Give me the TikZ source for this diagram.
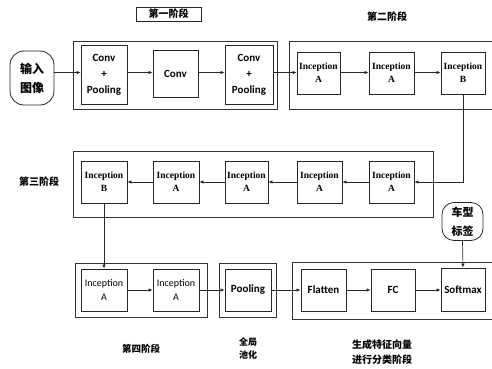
\documentclass[tikz,border=0pt]{standalone}
\usepackage{fontspec}
\setmainfont{Liberation Serif}
\newfontfamily\carl{Carlito}
\newfontfamily\cjk{Noto Sans CJK SC}
\usetikzlibrary{arrows.meta}
\tikzset{
  box/.style={draw=black!85, line width=0.8pt, inner sep=0pt, align=center},
  sansbox/.style={box, font=\carl\bfseries\fontsize{11}{16}\selectfont},
  incbox/.style={box, font=\bfseries\fontsize{9.5}{13}\selectfont, minimum width=45pt, minimum height=42pt},
  inc4box/.style={box, font=\carl\fontsize{10}{14}\selectfont, minimum width=46pt, minimum height=42pt},
  stadium/.style={box, rounded corners=14pt, font=\cjk\bfseries\fontsize{12}{19}\selectfont},
  stageline/.style={draw=black!80, line width=0.9pt},
  title/.style={inner sep=0pt, align=center, font=\cjk\bfseries\fontsize{10}{15}\selectfont},
  arr/.style={draw=black!85, line width=0.7pt, -{Latex[length=4pt,width=3.5pt]}}
}
\begin{document}
\begin{tikzpicture}[x=1pt,y=-1pt]
\useasboundingbox (0,0) rectangle (492,369);
% stage frames
\draw[stageline] (73,41) rectangle (277,109);
\draw[stageline] (495,41) -| (289,109) -- (495,109);
\draw[stageline] (73,151) rectangle (433,217);
\draw[stageline] (75,263) rectangle (207,317);
\draw[stageline] (219,263) rectangle (276,317);
\draw[stageline] (495,262) -| (292,319) -- (495,319);
% titles
\node[title, draw=black!85, line width=0.8pt, minimum width=65pt, minimum height=14pt] (t1) at (168.5,14) {第一阶段};
\node[title] (t2) at (387,17) {第二阶段};
\node[title] (t3) at (39,182) {第三阶段};
\node[title, font=\cjk\bfseries\fontsize{9.5}{15}\selectfont] (t4) at (141,349) {第四阶段};
\node[title, font=\cjk\bfseries\fontsize{9}{13}\selectfont] (t5) at (248,349) {全局\\池化};
\node[title] (t6) at (382,352) {生成特征向量\\进行分类阶段};
% stage 1
\node[stadium, minimum width=44pt, minimum height=54pt] (in) at (32,78) {输入\\图像};
\node[sansbox, minimum width=46pt, minimum height=59pt] (c1) at (104,74.5) {Conv\\+\\Pooling};
\node[sansbox, minimum width=45pt, minimum height=47pt] (c2) at (175.5,73.5) {Conv};
\node[sansbox, minimum width=48pt, minimum height=59pt] (c3) at (249,74.5) {Conv\\+\\Pooling};
% stage 2
\node[incbox, minimum width=43pt] (a1) at (318.5,73) {Inception\\A};
\node[incbox] (a2) at (391.5,73) {Inception\\A};
\node[incbox, minimum width=44pt] (b1) at (463,73) {Inception\\B};
% stage 3
\node[incbox] (s5) at (391.5,182) {Inception\\A};
\node[incbox] (s4) at (319.5,182) {Inception\\A};
\node[incbox, minimum width=43pt] (s3) at (246.5,182) {Inception\\A};
\node[incbox, minimum width=46pt] (s2) at (176,182) {Inception\\A};
\node[incbox, minimum width=46pt] (s1) at (104,182) {Inception\\B};
% stage 4
\node[inc4box] (f1) at (104,290) {Inception\\A};
\node[inc4box] (f2) at (176,290) {Inception\\A};
% pooling
\node[sansbox, minimum width=46pt, minimum height=42pt] (pool) at (248,290) {Pooling};
% stage 5
\node[sansbox, minimum width=45pt, minimum height=42pt] (fl) at (323.5,290) {Flatten};
\node[sansbox, minimum width=44pt, minimum height=42pt] (fc) at (393,290) {FC};
\node[sansbox, minimum width=44pt, minimum height=43pt] (sm) at (463,289.5) {Softmax};
\node[stadium, font=\cjk\bfseries\fontsize{11}{19}\selectfont, minimum width=41pt, minimum height=38pt, rounded corners=12pt] (lbl) at (462.5,221.5) {车型\\标签};
% connectors
\draw[arr] (in.east |- 0,72.5) -- (c1.west |- 0,72.5);
\draw[arr] (c1.east |- 0,72.5) -- (c2.west |- 0,72.5);
\draw[arr] (c2.east |- 0,72.5) -- (c3.west |- 0,72.5);
\draw[arr] (c3.east |- 0,72.5) -- (a1.west |- 0,72.5);
\draw[arr] (a1.east |- 0,72.5) -- (a2.west |- 0,72.5);
\draw[arr] (a2.east |- 0,72.5) -- (b1.west |- 0,72.5);
\draw[arr] (b1.south) |- (s5.east);
\draw[arr] (s5) -- (s4);
\draw[arr] (s4) -- (s3);
\draw[arr] (s3) -- (s2);
\draw[arr] (s2) -- (s1);
\draw[arr] (s1.south) -- (f1.north);
\draw[arr] (f1) -- (f2);
\draw[arr] (f2) -- (pool);
\draw[arr] (pool) -- (fl);
\draw[arr] (fl) -- (fc);
\draw[arr] (fc) -- (sm.west |- fc);
\draw[arr] (lbl.south) -- (sm.north);
\end{tikzpicture}
\end{document}
